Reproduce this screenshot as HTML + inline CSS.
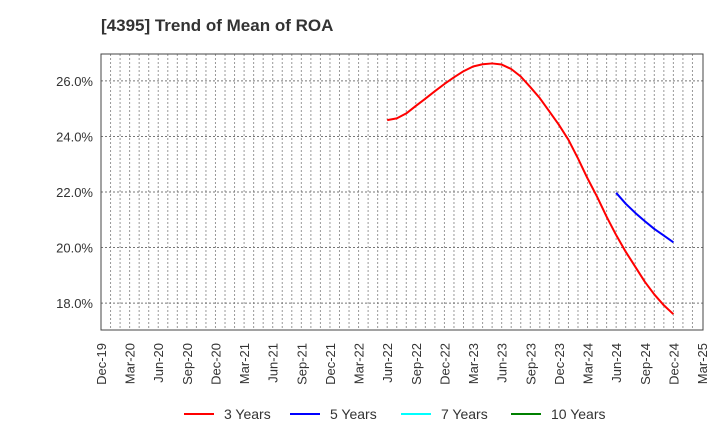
<!DOCTYPE html>
<html><head><meta charset="utf-8"><style>
body{margin:0;background:#fff;font-family:"Liberation Sans",Arial,sans-serif}
</style></head><body>
<svg id="chart" width="720" height="440" xmlns="http://www.w3.org/2000/svg" font-family="Liberation Sans, Arial, sans-serif">
<text x="101" y="31" font-size="17" font-weight="bold" fill="#333">[4395]  Trend of Mean of ROA</text>
<g id="grid"></g><g id="axes"></g><g id="series"></g><g id="legend"></g>
</svg>
<script>
const xLabels=["Dec-19","Mar-20","Jun-20","Sep-20","Dec-20","Mar-21","Jun-21","Sep-21","Dec-21","Mar-22","Jun-22","Sep-22","Dec-22","Mar-23","Jun-23","Sep-23","Dec-23","Mar-24","Jun-24","Sep-24","Dec-24","Mar-25"];
const yTicks=[18,20,22,24,26];
const startRed=30; // months from Dec-19 (Jun-22)
const red=[24.59,24.65,24.83,25.10,25.36,25.63,25.89,26.13,26.35,26.52,26.60,26.63,26.59,26.43,26.16,25.78,25.38,24.90,24.42,23.88,23.21,22.49,21.83,21.11,20.45,19.85,19.31,18.77,18.31,17.92,17.60];
const startBlue=54; // Jun-24
const blue=[21.97,21.58,21.25,20.95,20.67,20.43,20.19];
const L=101,R=703,T=54,B=330,yMin=17.03,yMax=26.97,nMonths=63;
const X=m=>L+m*(R-1-L)/nMonths;
const Y=v=>B-(v-yMin)/(yMax-yMin)*(B-T);
const NS="http://www.w3.org/2000/svg";
function mk(tag,attrs,parent){const e=document.createElementNS(NS,tag);for(const k in attrs)e.setAttribute(k,attrs[k]);parent.appendChild(e);return e;}
const grid=document.getElementById('grid'),axes=document.getElementById('axes'),series=document.getElementById('series'),legend=document.getElementById('legend');
for(let m=1;m<nMonths;m++){const l=mk('line',{x1:X(m),x2:X(m),y1:T,y2:B,stroke:'#999','stroke-width':1,'stroke-dasharray':'2,2'},grid);

}
yTicks.forEach(v=>{const l=mk('line',{x1:L,x2:R,y1:Y(v),y2:Y(v),stroke:'#777','stroke-width':1,'stroke-dasharray':'2,2'},grid);


const t=mk('text',{x:L-8,y:Y(v)+5,'text-anchor':'end','font-size':13,fill:'#333'},axes);t.textContent=v.toFixed(1)+'%';

});
const fr=mk('rect',{x:L,y:T,width:R-L,height:B-T,fill:'none',stroke:'#444','stroke-width':1},axes);


xLabels.forEach((s,i)=>{const x=X(i*3);const t=mk('text',{x:0,y:0,transform:`translate(${x+5},343) rotate(-90)`,'text-anchor':'end','font-size':13,fill:'#333'},axes);t.textContent=s;

});
function line(arr,start,color,name){const p=mk('polyline',{points:arr.map((v,i)=>X(start+i)+','+Y(v)).join(' '),fill:'none',stroke:color,'stroke-width':2,'stroke-linejoin':'round'},series);

}
line(red,startRed,'#ff0000','line-3-years');
line(blue,startBlue,'#0000ff','line-5-years');
const leg=[["3 Years","#ff0000",184],["5 Years","#0000ff",290],["7 Years","#00ffff",401],["10 Years","#008000",511]];
leg.forEach(([s,c,x])=>{const g=mk('g',{},legend);


mk('line',{x1:x,x2:x+30,y1:414,y2:414,stroke:c,'stroke-width':2},g);
const t=mk('text',{x:x+40,y:419,'font-size':14,fill:'#333'},g);t.textContent=s;});
</script>
</body></html>
